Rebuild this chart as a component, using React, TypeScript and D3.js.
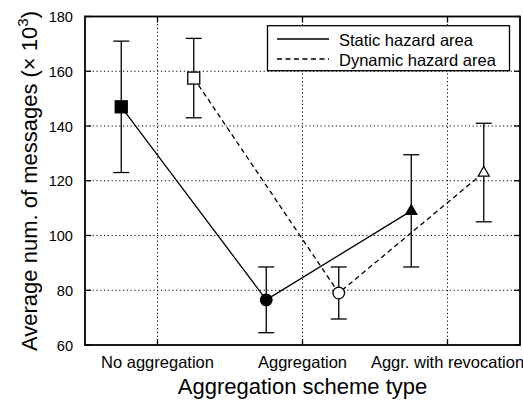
import React from "react";
import * as d3 from "d3";

const categories = ["No aggregation", "Aggregation", "Aggr. with revocation"];
const yTicks = [60, 80, 100, 120, 140, 160, 180];

const staticMean = [147, 76.5, 109];
const staticLow = [123, 64.5, 88.5];
const staticHigh = [171, 88.5, 129.5];

const dynamicMean = [157.5, 79, 123];
const dynamicLow = [143, 69.5, 105];
const dynamicHigh = [172, 88.5, 141];

const W = 523;
const H = 403;
const M = { left: 85, right: 520, top: 16.5, bottom: 345 };

export default function App() {
  const x = d3.scaleLinear().domain([0.5, 3.5]).range([M.left, M.right]);
  const y = d3.scaleLinear().domain([60, 180]).range([M.bottom, M.top]);
  const font = "Liberation Sans, Arial, Helvetica, sans-serif";
  const line = d3
    .line<[number, number]>()
    .x((d) => d[0])
    .y((d) => d[1]);

  const staticPts: [number, number][] = staticMean.map((v, i) => [x(i + 1 - 0.25), y(v)]);
  const dynamicPts: [number, number][] = dynamicMean.map((v, i) => [x(i + 1 + 0.25), y(v)]);

  const errBar = (cx: number, lo: number, hi: number, key: string) => (
    <g key={key} stroke="#000" strokeWidth={1.3}>
      <line x1={cx} x2={cx} y1={y(lo)} y2={y(hi)} />
      <line x1={cx - 8} x2={cx + 8} y1={y(lo)} y2={y(lo)} />
      <line x1={cx - 8} x2={cx + 8} y1={y(hi)} y2={y(hi)} />
    </g>
  );

  const marker = (i: number, cx: number, cy: number, filled: boolean) => {
    const fill = filled ? "#000" : "#fff";
    if (i === 0) {
      const s = 6;
      return <rect x={cx - s} y={cy - s} width={2 * s} height={2 * s} fill={fill} stroke="#000" strokeWidth={1.3} />;
    }
    if (i === 1) return <circle cx={cx} cy={cy} r={5.8} fill={fill} stroke="#000" strokeWidth={1.3} />;
    const hw = 5.5;
    const tri = `M${cx},${cy - 6} L${cx + hw},${cy + 3.5} L${cx - hw},${cy + 3.5} Z`;
    return <path d={tri} fill={fill} stroke="#000" strokeWidth={1.3} />;
  };

  return (
    <svg width={W} height={H} style={{ position: "absolute", left: 0, top: 0 }} fontFamily={font}>
      <rect width={W} height={H} fill="#fff" />
      {/* grid */}
      <g stroke="#000" strokeWidth={1} strokeDasharray="1.2,2.6">
        {yTicks.slice(1, -1).map((t) => (
          <line key={t} x1={M.left} x2={M.right} y1={y(t)} y2={y(t)} />
        ))}
        {categories.map((c, i) => (
          <line key={c} x1={x(i + 1)} x2={x(i + 1)} y1={M.top} y2={M.bottom} />
        ))}
      </g>
      {/* inward ticks */}
      <g stroke="#000" strokeWidth={1.3}>
        {yTicks.map((t) => (
          <g key={t}>
            <line x1={M.left} x2={M.left + 6} y1={y(t)} y2={y(t)} />
            <line x1={M.right} x2={M.right - 6} y1={y(t)} y2={y(t)} />
          </g>
        ))}
        {categories.map((c, i) => (
          <g key={c}>
            <line x1={x(i + 1)} x2={x(i + 1)} y1={M.bottom} y2={M.bottom - 6} />
            <line x1={x(i + 1)} x2={x(i + 1)} y1={M.top} y2={M.top + 6} />
          </g>
        ))}
      </g>
      {/* series lines */}
      <path d={line(staticPts) ?? ""} fill="none" stroke="#000" strokeWidth={1.3} />
      <path d={line(dynamicPts) ?? ""} fill="none" stroke="#000" strokeWidth={1.3} strokeDasharray="5,3.5" />
      {/* error bars */}
      {staticMean.map((_, i) => errBar(staticPts[i][0], staticLow[i], staticHigh[i], "s" + i))}
      {dynamicMean.map((_, i) => errBar(dynamicPts[i][0], dynamicLow[i], dynamicHigh[i], "d" + i))}
      {/* markers */}
      {staticPts.map((p, i) => (
        <g key={"sm" + i}>{marker(i, p[0], p[1], true)}</g>
      ))}
      {dynamicPts.map((p, i) => (
        <g key={"dm" + i}>{marker(i, p[0], p[1], false)}</g>
      ))}
      {/* frame */}
      <rect x={M.left} y={M.top} width={M.right - M.left} height={M.bottom - M.top} fill="none" stroke="#000" strokeWidth={1.8} />
      {/* tick labels */}
      <g fill="#000">
        {yTicks.map((t) => (
          <text key={t} x={73} y={y(t) + 5.5} textAnchor="end" fontSize={14.6}>
            {t}
          </text>
        ))}
        {categories.map((c, i) => (
          <text key={c} x={x(i + 1)} y={368} textAnchor="middle" fontSize={16.5}>
            {c}
          </text>
        ))}
      </g>
      {/* axis titles */}
      <text x={(M.left + M.right) / 2} y={394} textAnchor="middle" fontSize={22}>
        Aggregation scheme type
      </text>
      <text transform={`translate(36.7,181) rotate(-90)`} textAnchor="middle" fontSize={22}>
        Average num. of messages (× 10
        <tspan dy={-9} fontSize={15}>
          3
        </tspan>
        <tspan dy={9}>)</tspan>
      </text>
      {/* legend */}
      <g>
        <rect x={267.5} y={25.7} width={242} height={45} fill="#fff" stroke="#000" strokeWidth={1.3} />
        <line x1={277} x2={329} y1={39} y2={39} stroke="#000" strokeWidth={1.3} />
        <line x1={277} x2={329} y1={59} y2={59} stroke="#000" strokeWidth={1.3} strokeDasharray="5,3.5" />
        <text x={339} y={46} fontSize={16.5}>
          Static hazard area
        </text>
        <text x={339} y={65.5} fontSize={16.5}>
          Dynamic hazard area
        </text>
      </g>
    </svg>
  );
}
